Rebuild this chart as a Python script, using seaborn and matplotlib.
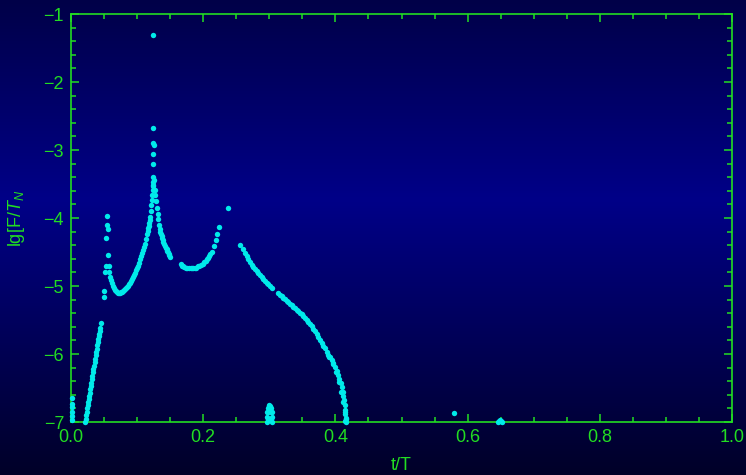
import numpy as np
import pandas as pd
import seaborn as sns
import matplotlib.pyplot as plt
from matplotlib.colors import LinearSegmentedColormap
from matplotlib.ticker import MultipleLocator

# points hugging the left edge
t_edge = [0.001, 0.001, 0.002, 0.001, 0.0015, 0.001]
y_edge = [-6.65, -6.73, -6.78, -6.85, -6.91, -6.97]

# steep rise near t=0.02..0.045
t_rise = [0.0212, 0.0220, 0.0228, 0.0236, 0.0244, 0.0252, 0.0260, 0.0268, 0.0276, 0.0284,
          0.0292, 0.0300, 0.0308, 0.0316, 0.0324, 0.0332, 0.0340, 0.0348, 0.0356, 0.0364,
          0.0372, 0.0380, 0.0388, 0.0396, 0.0404, 0.0412, 0.0420, 0.0426, 0.0432, 0.0440,
          0.0454]
y_rise = [-7.00, -6.95, -6.90, -6.85, -6.80, -6.75, -6.71, -6.66, -6.62, -6.57,
          -6.52, -6.47, -6.42, -6.37, -6.32, -6.27, -6.22, -6.17, -6.12, -6.07,
          -6.02, -5.97, -5.92, -5.87, -5.83, -5.78, -5.74, -5.70, -5.66, -5.62,
          -5.55]

# scattered column around t=0.05
t_col = [0.0549, 0.0545, 0.0560, 0.0534, 0.0564, 0.0525, 0.0575, 0.0519, 0.0570, 0.0500, 0.0495]
y_col = [-3.97, -4.10, -4.16, -4.29, -4.54, -4.71, -4.71, -4.79, -4.79, -5.07, -5.16]

# resonance peak around t=0.125
t_peak = [0.0590, 0.0605, 0.0620, 0.0636, 0.0651, 0.0666, 0.0681, 0.0696, 0.0711, 0.0726,
          0.0741, 0.0756, 0.0772, 0.0787, 0.0802, 0.0817, 0.0832, 0.0847, 0.0862, 0.0877,
          0.0893, 0.0908, 0.0923, 0.0938, 0.0953, 0.0968, 0.0983, 0.0998, 0.1014, 0.1029,
          0.1044, 0.1059, 0.1074, 0.1089, 0.1104, 0.1120, 0.1135, 0.1150, 0.1158, 0.1165,
          0.1173, 0.1180, 0.1188, 0.1195, 0.1206, 0.1215, 0.1224, 0.1231, 0.1237, 0.1244,
          0.1248,
          0.1245, 0.1252, 0.1240, 0.1248, 0.1243, 0.1250, 0.1246, 0.1241, 0.1245,
          0.1271, 0.1278, 0.1286, 0.1297, 0.1309, 0.1321, 0.1334, 0.1346, 0.1354, 0.1362,
          0.1370, 0.1377, 0.1388, 0.1399, 0.1410, 0.1422, 0.1433, 0.1445, 0.1456, 0.1467,
          0.1477, 0.1487, 0.1498]
y_peak = [-4.868, -4.918, -4.963, -5.000, -5.029, -5.054, -5.074, -5.088, -5.096, -5.099,
          -5.096, -5.090, -5.081, -5.071, -5.059, -5.045, -5.029, -5.012, -4.993, -4.972,
          -4.949, -4.924, -4.897, -4.868, -4.838, -4.806, -4.772, -4.737, -4.699, -4.656,
          -4.610, -4.563, -4.515, -4.470, -4.426, -4.382, -4.316, -4.235, -4.195, -4.154,
          -4.114, -4.074, -4.030, -3.985, -3.897, -3.816, -3.735, -3.662, -3.588, -3.529,
          -3.471,
          -3.40, -3.44, -3.51, -3.21, -3.06, -2.92, -2.90, -2.67, -1.31,
          -3.588, -3.662, -3.750, -3.853, -3.941, -4.022, -4.103, -4.169, -4.202, -4.235,
          -4.262, -4.287, -4.320, -4.353, -4.383, -4.412, -4.438, -4.463, -4.485, -4.507,
          -4.530, -4.551, -4.574]

# shallow valley around t=0.18
t_valley = [0.1657, 0.1675, 0.1694, 0.1717, 0.1740, 0.1762, 0.1785, 0.1808, 0.1830, 0.1853,
            0.1876, 0.1898, 0.1920, 0.1944, 0.1967, 0.1990, 0.2012, 0.2035, 0.2057, 0.2076,
            0.2095, 0.2110, 0.2126, 0.2163, 0.2194, 0.2213, 0.2232, 0.2380]
y_valley = [-4.68, -4.70, -4.71, -4.72, -4.73, -4.74, -4.74, -4.74, -4.74, -4.74,
            -4.74, -4.73, -4.71, -4.70, -4.69, -4.67, -4.65, -4.63, -4.61, -4.59,
            -4.56, -4.53, -4.50, -4.41, -4.32, -4.23, -4.13, -3.85]

# long falling branch t=0.25..0.42
t_fall = [0.2557, 0.2598, 0.2632, 0.2657, 0.2682, 0.2708, 0.2734, 0.2759, 0.2784, 0.2809,
          0.2834, 0.2860, 0.2885, 0.2910, 0.2935, 0.2960, 0.2985, 0.3010, 0.3036,
          0.3136, 0.3162, 0.3188, 0.3213, 0.3238, 0.3262, 0.3287, 0.3313, 0.3339, 0.3364,
          0.3389, 0.3414, 0.3439, 0.3465, 0.3490, 0.3515, 0.3540, 0.3565, 0.3590, 0.3615,
          0.3641, 0.3666, 0.3691, 0.3716, 0.3741, 0.3767, 0.3793, 0.3818, 0.3843, 0.3868,
          0.3893, 0.3918, 0.3944, 0.3969, 0.3994, 0.4019, 0.4044, 0.4062, 0.4080, 0.4095,
          0.4110, 0.4120, 0.4130, 0.4138, 0.4145, 0.4150, 0.4156, 0.4160,
          0.3900, 0.3960, 0.4015, 0.4058, 0.4092, 0.4118, 0.4140, 0.4165, 0.4150]
y_fall = [-4.397, -4.460, -4.519, -4.563, -4.607, -4.650, -4.691, -4.723, -4.754, -4.784,
          -4.813, -4.843, -4.872, -4.899, -4.926, -4.951, -4.975, -5.002, -5.029,
          -5.107, -5.129, -5.151, -5.174, -5.196, -5.218, -5.240, -5.262, -5.284, -5.306,
          -5.328, -5.350, -5.372, -5.394, -5.416, -5.441, -5.466, -5.495, -5.525, -5.556,
          -5.588, -5.625, -5.662, -5.704, -5.746, -5.790, -5.834, -5.875, -5.916, -5.965,
          -6.015, -6.050, -6.088, -6.137, -6.187, -6.248, -6.309, -6.370, -6.431, -6.492,
          -6.554, -6.615, -6.676, -6.750, -6.824, -6.885, -6.946, -7.000,
          -6.04, -6.15, -6.27, -6.41, -6.56, -6.70, -6.86, -6.96, -6.98]

# small hump at t=0.30
t_hump = [0.2963, 0.2966, 0.2970, 0.2978, 0.2990, 0.3003, 0.3016, 0.3028, 0.3036, 0.3040,
          0.3043, 0.2985, 0.3020, 0.3003, 0.2975, 0.3030]
y_hump = [-7.00, -6.93, -6.86, -6.80, -6.76, -6.75, -6.76, -6.80, -6.86, -6.93,
          -7.00, -6.85, -6.85, -6.80, -6.95, -6.95]

# isolated points further right
t_far = [0.579, 0.646, 0.6525, 0.649, 0.6475, 0.6505]
y_far = [-6.87, -7.00, -7.00, -6.965, -6.985, -6.985]

GREEN = '#22dd22'
CYAN = '#00eaea'

plt.rcParams['font.family'] = ['Liberation Sans', 'DejaVu Sans']
plt.rcParams['mathtext.fontset'] = 'custom'
plt.rcParams['mathtext.rm'] = 'Liberation Sans'
plt.rcParams['mathtext.it'] = 'Liberation Sans:italic'

df = pd.DataFrame({
    't': t_edge + t_rise + t_col + t_peak + t_valley + t_fall + t_hump + t_far,
    'lg': y_edge + y_rise + y_col + y_peak + y_valley + y_fall + y_hump + y_far,
})

fig = plt.figure(figsize=(7.46, 4.75), dpi=100)

# blue vertical gradient behind everything
bg = fig.add_axes([0, 0, 1, 1], zorder=0)
cmap = LinearSegmentedColormap.from_list(
    'bg', [(0.0, '#000048'), (0.42, '#000088'), (1.0, '#000028')])
bg.imshow(np.linspace(0, 1, 256).reshape(-1, 1), cmap=cmap, aspect='auto',
          extent=[0, 1, 1, 0])
bg.axis('off')

ax = fig.add_axes([71 / 746, 1 - 422 / 475, 661 / 746, 408 / 475], zorder=1)
ax.set_facecolor('none')

sns.scatterplot(data=df, x='t', y='lg', color=CYAN, s=15, linewidth=0,
                clip_on=False, ax=ax, zorder=3)

ax.set_xlim(0, 1)
ax.set_ylim(-7, -1)
ax.xaxis.set_major_locator(MultipleLocator(0.2))
ax.xaxis.set_minor_locator(MultipleLocator(0.05))
ax.yaxis.set_major_locator(MultipleLocator(1))
ax.yaxis.set_minor_locator(MultipleLocator(0.2))
ax.xaxis.set_major_formatter(plt.FormatStrFormatter('%.1f'))

for s in ax.spines.values():
    s.set_color(GREEN)
    s.set_linewidth(1.2)
ax.tick_params(which='both', direction='in', top=True, right=True,
               colors=GREEN, labelsize=13, pad=5)
ax.tick_params(which='major', length=6, width=1.1)
ax.tick_params(which='minor', length=3.5, width=1.1)

ax.set_xlabel('t/T', color=GREEN, fontsize=13, labelpad=8)
ax.set_ylabel('lg[F/$T_N$', color=GREEN, fontsize=13, labelpad=12)

fig.savefig('out.png', dpi=100)
